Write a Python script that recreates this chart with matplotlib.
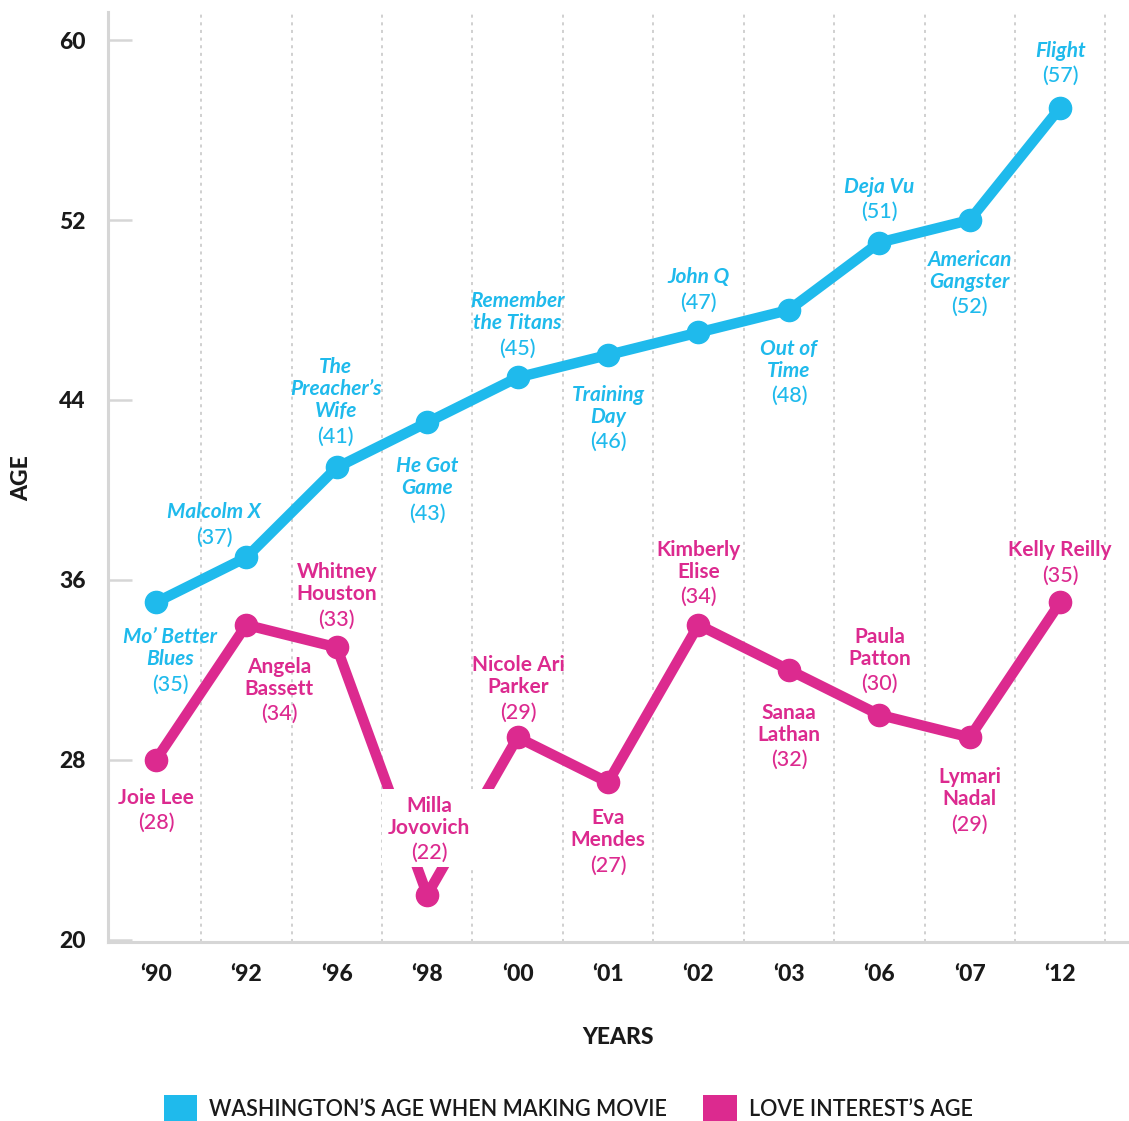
import numpy as np
import matplotlib
matplotlib.use("Agg")
import matplotlib.pyplot as plt
import matplotlib.transforms as mtransforms
from matplotlib.patches import Patch, Rectangle

plt.rcParams['font.family'] = ['Lato', 'DejaVu Sans']

years = ["\u201890", "\u201892", "\u201896", "\u201898", "\u201800", "\u201801",
         "\u201802", "\u201803", "\u201806", "\u201807", "\u201812"]
denzel_age = [35, 37, 41, 43, 45, 46, 47, 48, 51, 52, 57]
movies = ["Mo\u2019 Better\nBlues", "Malcolm X", "The\nPreacher\u2019s\nWife", "He Got\nGame",
          "Remember\nthe Titans", "Training\nDay", "John Q", "Out of\nTime", "Deja Vu",
          "American\nGangster", "Flight"]
love_age = [28, 34, 33, 22, 29, 27, 34, 32, 30, 29, 35]
actresses = ["Joie Lee", "Angela\nBassett", "Whitney\nHouston", "Milla\nJovovich",
             "Nicole Ari\nParker", "Eva\nMendes", "Kimberly\nElise", "Sanaa\nLathan",
             "Paula\nPatton", "Lymari\nNadal", "Kelly Reilly"]
yticks = [20, 28, 36, 44, 52, 60]

BLUE = "#1fbaec"
PINK = "#dc2a8f"
GREY = "#d6d6d6"
INK = "#1a1a1a"

# label layout: (dx, dy) in pixels from the point to the first text line (dy down)
blue_off = [(14, 35), (-32, -45), (-1, -100), (0, 44), (0, -76), (0, 40),
            (0, -55), (0, 39), (0, -56), (0, 40), (0, -57)]
pink_off = [(0, 38), (33, 42), (0, -75), (2, -89), (1, -72), (0, 36),
            (0, -75), (0, 43), (0, -78), (0, 40), (0, -52)]

fig = plt.figure(figsize=(11.29, 11.21), dpi=100)
ax = fig.add_axes([108/1129, 1 - 942/1121, 1020/1129, 930/1121])

x = np.arange(len(years))
ax.plot(x, denzel_age, color=BLUE, lw=7.5, marker='o', ms=16, zorder=3,
        solid_joinstyle='round')
ax.plot(x, love_age, color=PINK, lw=7.5, marker='o', ms=16, zorder=3,
        solid_joinstyle='round')

ax.set_xlim(-0.53, 10.75)
ax.set_ylim(19.9, 61.25)


def label(i, v, text, dx, dy, color, italic):
    ypos = dy
    for ln in text.split("\n"):
        ax.annotate(ln, (i, v), xytext=(dx * 0.72, -ypos * 0.72), textcoords='offset points',
                    ha='center', va='center', color=color, fontsize=15, fontweight='bold',
                    style='italic' if italic else 'normal', zorder=6)
        ypos += 22
    ypos += 3
    ax.annotate("(%d)" % v, (i, v), xytext=(dx * 0.72, -ypos * 0.72), textcoords='offset points',
                ha='center', va='center', color=color, fontsize=15.5, fontweight='medium',
                zorder=6)


for i in range(len(years)):
    label(i, denzel_age[i], movies[i], *blue_off[i], BLUE, True)
    label(i, love_age[i], actresses[i], *pink_off[i], PINK, False)

# white mask behind the Milla Jovovich label (hides the dip of the pink line)
k = int(np.argmin(love_age))
mask_tr = fig.dpi_scale_trans + mtransforms.ScaledTranslation(k, love_age[k], ax.transData)
ax.add_patch(Rectangle((-0.45, 0.28), 1.12, 0.78, transform=mask_tr, fc='white', ec='none', zorder=5))

# axes styling
for s in ['top', 'right']:
    ax.spines[s].set_visible(False)
for s in ['left', 'bottom']:
    ax.spines[s].set_color(GREY)
    ax.spines[s].set_linewidth(2.2)

ax.set_yticks(yticks)
ax.set_yticklabels([str(t) for t in yticks], fontsize=16.5, fontweight='black', color=INK)
ax.tick_params(axis='y', direction='in', length=17, width=1.8, color=GREY, pad=16)
ax.set_xticks(x)
ax.set_xticklabels(years, fontsize=16.5, fontweight='black', color=INK)
ax.tick_params(axis='x', length=0, pad=16)
ax.set_xticks(x + 0.5, minor=True)
ax.tick_params(axis='x', which='minor', length=0)
ax.grid(which='minor', axis='x', color='#c4c4c4', lw=1.1, linestyle=(0, (2, 3)))

ax.set_xlabel("YEARS", fontsize=16.5, fontweight='black', color=INK, labelpad=30)
fig.text(22/1129, 1 - 478/1121, "AGE", rotation=90, fontsize=16.5, fontweight='black',
         color=INK, ha='center', va='center')

handles = [Patch(facecolor=BLUE, edgecolor='none', label="WASHINGTON\u2019S AGE WHEN MAKING MOVIE"),
           Patch(facecolor=PINK, edgecolor='none', label="LOVE INTEREST\u2019S AGE")]
fig.legend(handles=handles, loc='center', bbox_to_anchor=(568/1129, 1 - 1109/1121), ncol=2,
           frameon=False, prop={'size': 15.5, 'weight': 'semibold'}, handlelength=1.55,
           handleheight=1.6, handletextpad=0.55, columnspacing=1.7, labelcolor=INK)

fig.savefig("out.png", dpi=100, facecolor='white')
